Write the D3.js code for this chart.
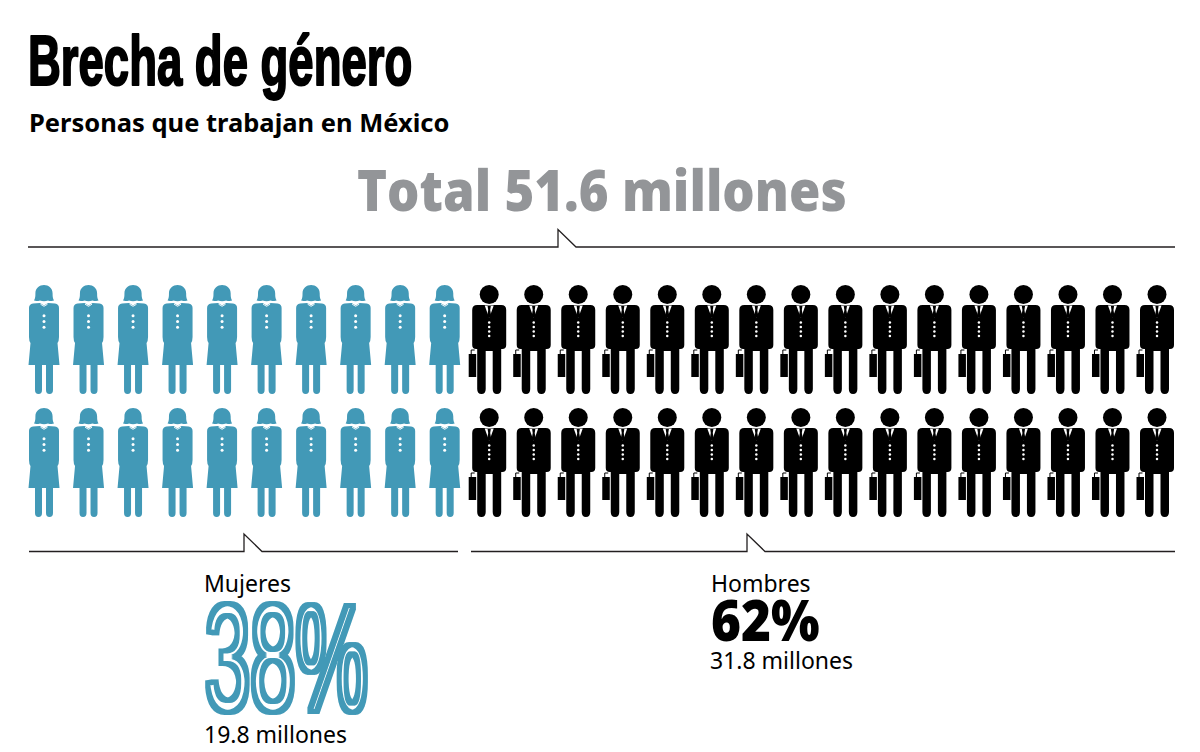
<!DOCTYPE html>
<html><head><meta charset="utf-8">
<script src="https://cdn.jsdelivr.net/npm/d3@7/dist/d3.min.js"></script>
<style>html,body{margin:0;padding:0;background:#fff}svg{display:block}</style>
</head><body><svg id="c" width="1200" height="752"></svg>
<script>
const categories = ["Mujeres", "Hombres"];
const figureCounts = [20, 32];
const percents = ["38%", "62%"];
const millionsLabels = ["19.8 millones", "31.8 millones"];
const colors = ["#4299b7", "#000000"];
const titleText = "Brecha de género";
const subtitleText = "Personas que trabajan en México";
const totalText = "Total 51.6 millones";

const svg = d3.select("#c");
const sans = "'Noto Sans','Open Sans',sans-serif";
const heavy = "'Open Sans','Noto Sans',sans-serif";
const grotesk = "'Liberation Sans',sans-serif";

const total = d3.sum(figureCounts);
const xCol = d3.scalePoint().domain(d3.range(total / 2)).range([44, 1157]);
const yRow = d3.scalePoint().domain([0, 1]).range([285, 408]);

const womanHead = "M-10 15.4C-8.6 13.6-8.6 10.5-8.6 8.5C-8.6 3-4.5 0 0 0C4.5 0 8.6 3 8.6 8.5C8.6 10.5 8.6 13.6 10 15.4Q5 16.5 4 15.5Q0 17-4 15.5Q-5 16.5-10 15.4Z";
const womanBody = "M-11 18.5L-4 18L0 20.5L4 18L11 18.5Q15 19 15 23L15 52Q15 56 13.5 58L15.5 80L9 80L9 105Q9 109 5.5 109Q2 109 2 105L2 80L-2 80L-2 105Q-2 109-5.5 109Q-9 109-9 105L-9 80L-15.5 80L-13.5 58Q-15 56-15 52L-15 23Q-15 19-11 18.5Z";
const manBody = "M-12 20L12 20Q17 20 17 25L17 60Q17 64 13 64L12 64L12 104Q12 109 7.7 109Q3.5 109 3.5 104L3.5 66L-3.5 66L-3.5 104Q-3.5 109-7.7 109Q-12 109-12 104L-12 64L-13 64Q-17 64-17 60L-17 25Q-17 20-12 20Z";
const shirt = "M-4.5 20.5L4.5 20.5L0 33Z";
const tie = "M-1.6 21L1.6 21L1 25L2 31L0 33L-2 31L-1 25Z";
const handle = "M-18 69L-18 65L-14.5 65";

const people = d3.range(total).map(i => ({
  col: Math.floor(i / 2), row: i % 2, cat: i < figureCounts[0] ? 0 : 1
}));
const fig = svg.append("g").selectAll("g").data(people).join("g")
  .attr("transform", d => `translate(${xCol(d.col)},${yRow(d.row)})`);

fig.filter(d => d.cat === 0).each(function () {
  const g = d3.select(this);
  g.append("path").attr("d", womanHead).attr("fill", colors[0]);
  g.append("path").attr("d", womanBody).attr("fill", colors[0]);
  g.append("path").attr("d", "M-3.5 19.2L0 21.3L3.5 19.2").attr("fill", "none").attr("stroke", "#fff").attr("stroke-width", 0.9);
  [30.7, 36.5, 42.3].forEach(y => g.append("circle").attr("cy", y).attr("r", 1.5).attr("fill", "#fff"));
});
fig.filter(d => d.cat === 1).each(function () {
  const g = d3.select(this);
  g.append("circle").attr("cy", 9.5).attr("r", 9.5).attr("fill", colors[1]);
  g.append("path").attr("d", manBody).attr("fill", colors[1]);
  g.append("path").attr("d", shirt).attr("fill", "#fff");
  g.append("path").attr("d", tie).attr("fill", colors[1]);
  [37.5, 42, 46.5, 51].forEach(y => g.append("circle").attr("cy", y).attr("r", 1.25).attr("fill", "#fff"));
  g.append("rect").attr("x", -20.5).attr("y", 69).attr("width", 7.5).attr("height", 23).attr("fill", colors[1]);
  g.append("path").attr("d", handle).attr("fill", "none").attr("stroke", colors[1]).attr("stroke-width", 1);
});

const line = d3.line();
const bracket = (x0, x1, tip, y) => line([[x0, y], [tip, y], [tip, y - 17.5], [tip + 18, y], [x1, y]]);
svg.append("g").selectAll("path").data([[28, 1175, 558, 247], [29, 458, 244, 551.5], [471, 1175, 747, 551.5]])
  .join("path").attr("d", d => bracket(...d)).attr("fill", "none").attr("stroke", "#231f20").attr("stroke-width", 1.3);

function label(txt, x, y, o, parent) {
  const sx = o.sx || 1;
  return (parent || svg).append("text").text(txt)
    .attr("transform", `translate(${x},${y}) scale(${sx},1)`)
    .attr("font-family", o.font || sans).attr("font-size", o.size)
    .attr("font-weight", o.weight || 400).attr("fill", o.fill || "#000")
    .attr("stroke", o.stroke || "none").attr("stroke-width", o.sw || 0)
    .attr("stroke-linejoin", "round");
}

label(titleText, 28, 85, { font: grotesk, size: 70, weight: 700, sx: 0.65, stroke: "#000", sw: 2.2 });
label(subtitleText, 29, 132, { font: sans, size: 25, weight: 700, sx: 1.02 });
label(totalText, 357, 211, { font: heavy, size: 56, weight: 800, sx: 0.91, fill: "#939598" });

label(categories[0], 204, 592, { size: 23 });
label(millionsLabels[0], 204, 743, { size: 23 });
label(categories[1], 711, 592, { size: 23 });
label(millionsLabels[1], 710, 669, { size: 23 });

// 38% inline lettering: one text, outlined by a morphology filter
const f = svg.append("defs").append("filter").attr("id", "inline")
  .attr("filterUnits", "userSpaceOnUse")
  .attr("x", 190).attr("y", 580).attr("width", 200).attr("height", 160)
  .attr("color-interpolation-filters", "sRGB");
f.append("feMorphology").attr("in", "SourceAlpha").attr("operator", "dilate").attr("radius", "3 3").attr("result", "outer");
f.append("feFlood").attr("flood-color", colors[0]).attr("result", "teal");
f.append("feComposite").attr("in", "teal").attr("in2", "outer").attr("operator", "in").attr("result", "band");
f.append("feMorphology").attr("in", "SourceAlpha").attr("operator", "erode").attr("radius", "1.8 2.4").attr("result", "core");
f.append("feFlood").attr("flood-color", "#ffffff").attr("result", "white");
f.append("feComposite").attr("in", "white").attr("in2", "core").attr("operator", "in").attr("result", "line");
const fm = f.append("feMerge");
fm.append("feMergeNode").attr("in", "band");
fm.append("feMergeNode").attr("in", "line");
const big = svg.append("g").attr("filter", "url(#inline)");
label(percents[0], 205, 711, { font: grotesk, size: 152, weight: 400, sx: 0.535, fill: colors[0] }, big);

label(percents[1], 711, 641, { font: heavy, size: 56, weight: 800, sx: 0.915 });
</script></body></html>
